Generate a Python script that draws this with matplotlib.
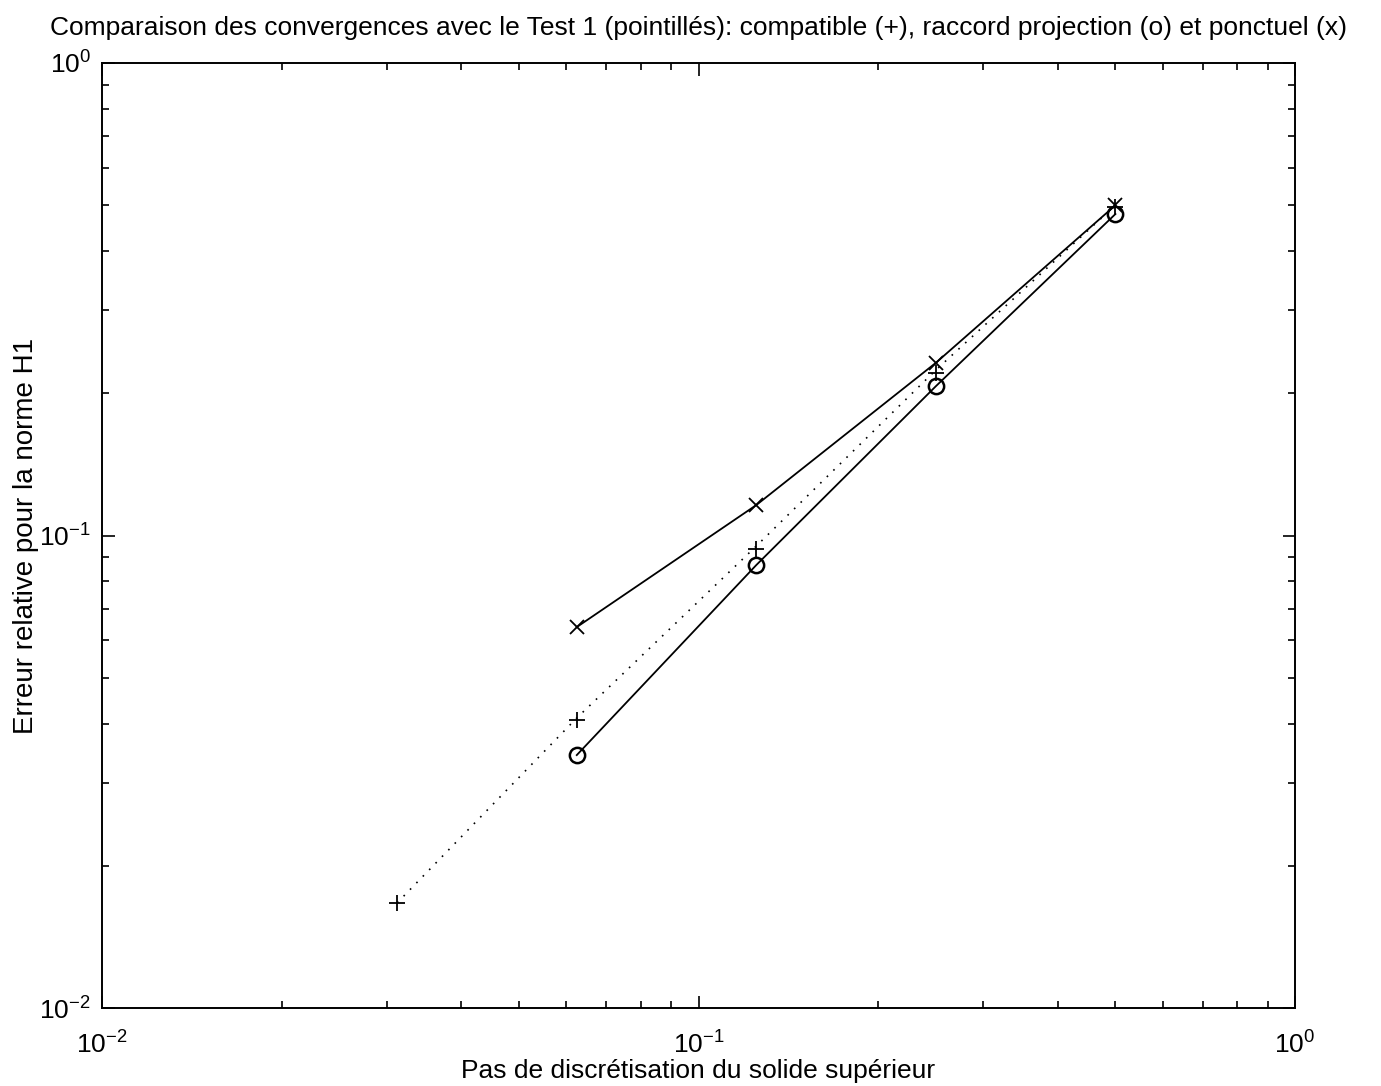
import numpy as np
import matplotlib
matplotlib.use("Agg")
import matplotlib.pyplot as plt

plt.rcParams['font.family'] = ['Liberation Sans', 'DejaVu Sans']
plt.rcParams['mathtext.fontset'] = 'custom'
plt.rcParams['mathtext.rm'] = 'Liberation Sans'
plt.rcParams['mathtext.it'] = 'Liberation Sans'

# pas de discretisation
h_test1 = [1/32, 1/16, 1/8, 1/4, 1/2]
err_test1 = [0.0167, 0.0411, 0.0950, 0.224, 0.500]      # Test 1 (pointilles)

h_compat = [1/32, 1/16, 1/8, 1/4, 1/2]
err_compat = [0.0167, 0.0407, 0.0936, 0.221, 0.495]     # compatible (+)

h_proj = [1/16, 1/8, 1/4, 1/2]
err_proj = [0.0343, 0.0866, 0.207, 0.479]               # raccord projection (o)

h_ponct = [1/16, 1/8, 1/4, 1/2]
err_ponct = [0.0640, 0.116, 0.232, 0.500]               # ponctuel (x)

fig = plt.figure(figsize=(13.81, 10.86), dpi=100)
ax = fig.add_axes([0.0739, 0.0718, 0.8638, 0.8702])

ax.loglog(h_test1, err_test1, color='k', lw=1.2, linestyle=(0, (1, 4.5)))
ax.loglog(h_compat, err_compat, 'k+', ms=12, mew=1.3)
ax.loglog(h_proj, err_proj, 'k-o', lw=1.3, ms=11, mew=1.8, mfc='none')
ax.loglog(h_ponct, err_ponct, 'k-x', lw=1.3, ms=10, mew=1.3)

ax.set_xlim(1e-2, 1e0)
ax.set_ylim(1e-2, 1e0)

ax.tick_params(which='both', direction='in', top=True, right=True, width=1.2)
ax.tick_params(which='major', length=9, labelsize=19)
ax.tick_params(axis='x', which='major', pad=17)
ax.tick_params(axis='y', which='major', pad=8)
ax.tick_params(which='minor', length=5)
for s in ax.spines.values():
    s.set_linewidth(1.4)

ax.set_title("Comparaison des convergences avec le Test 1 (pointillés): compatible (+), "
             "raccord projection (o) et ponctuel (x)", fontsize=19, pad=20)
ax.set_xlabel("Pas de discrétisation du solide supérieur", fontsize=19, labelpad=0)
ax.set_ylabel("Erreur relative pour la norme H1", fontsize=20, labelpad=0)

fig.savefig("out.png", dpi=100)
